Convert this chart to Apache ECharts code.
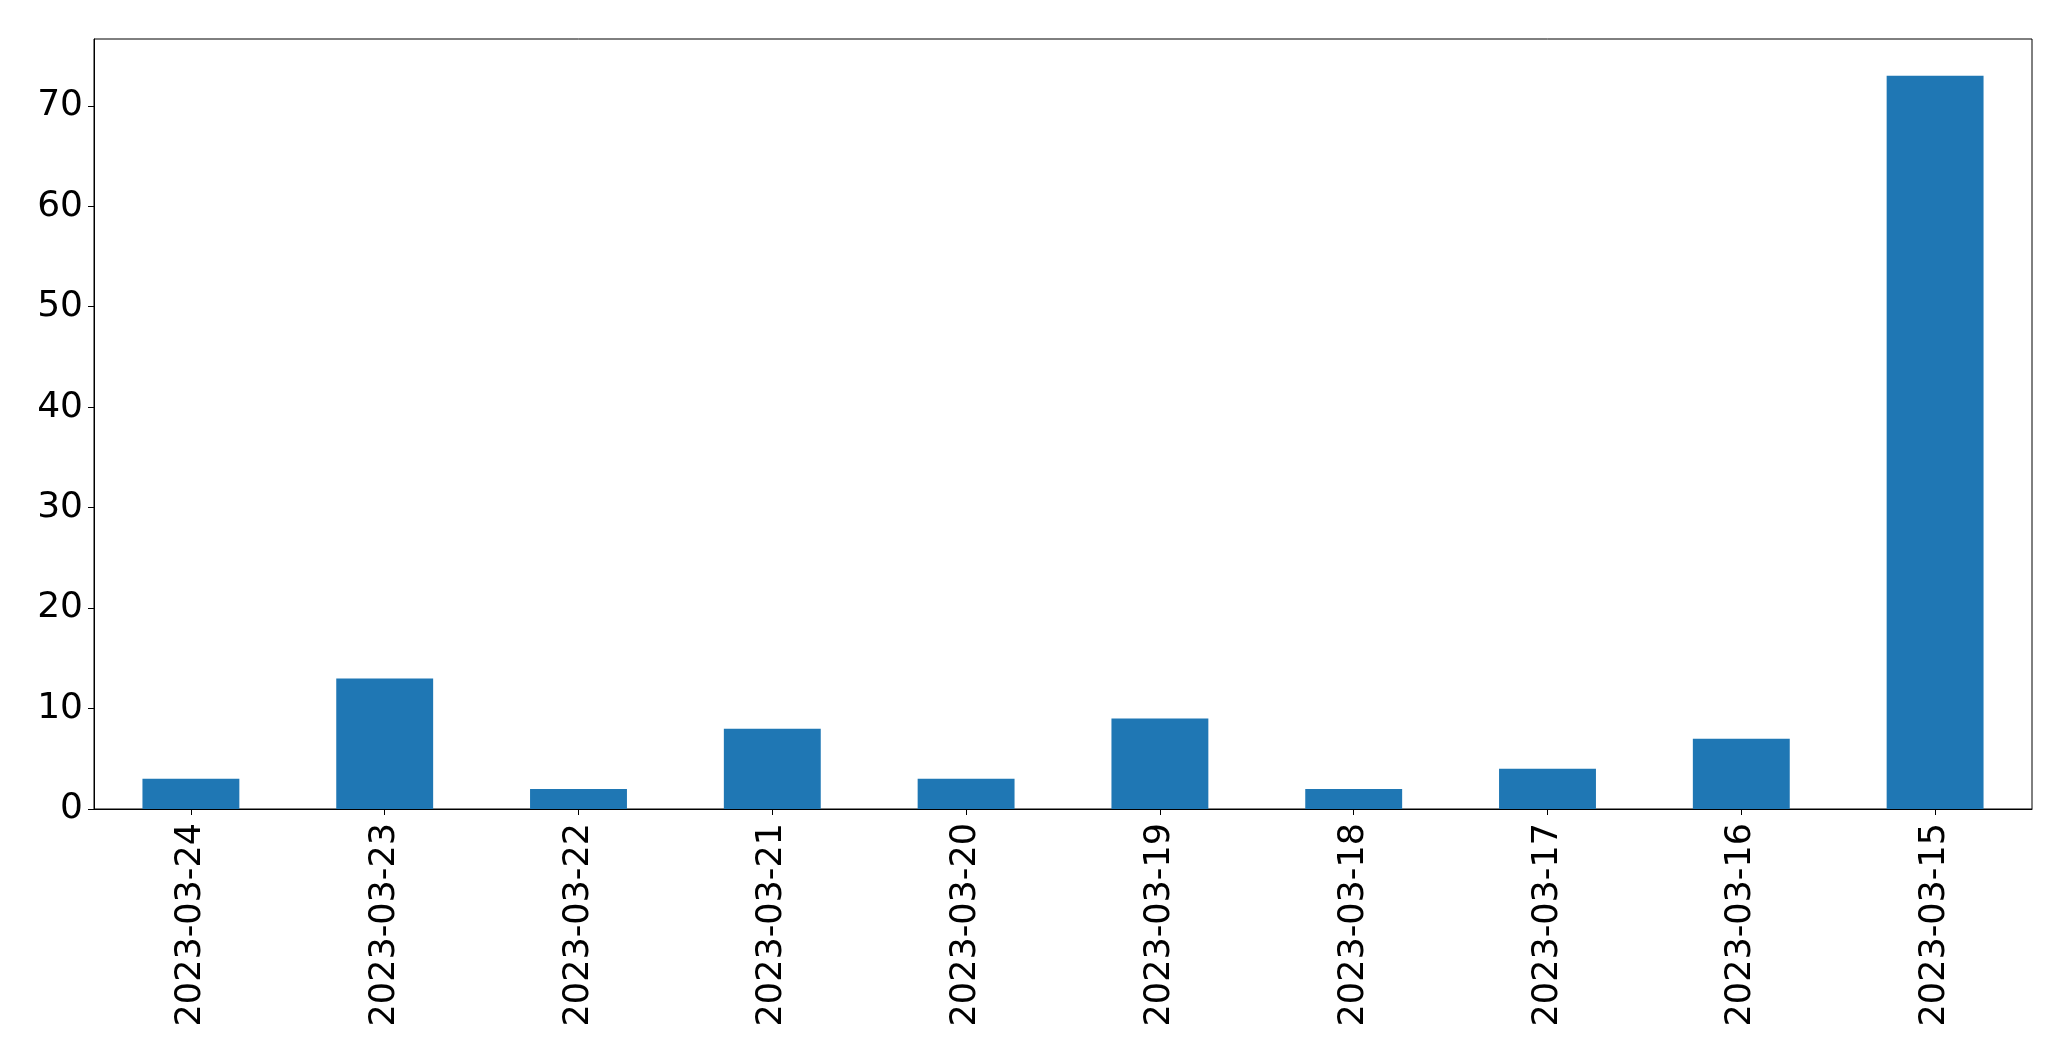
<!DOCTYPE html>
<html><head><meta charset="utf-8">
<script src="https://cdn.jsdelivr.net/npm/echarts@6/dist/echarts.min.js"></script>
<style>html,body{margin:0;padding:0;background:#fff}#c{width:2071px;height:1061px}</style>
</head><body><div id="c"></div>
<script>
const categories = ['2023-03-24','2023-03-23','2023-03-22','2023-03-21','2023-03-20','2023-03-19','2023-03-18','2023-03-17','2023-03-16','2023-03-15'];
const values = [3, 13, 2, 8, 3, 9, 2, 4, 7, 73];
const yTicks = [0, 10, 20, 30, 40, 50, 60, 70];

const chart = echarts.init(document.getElementById('c'), null, {renderer: 'canvas'});
const font = 'DejaVu Sans';
chart.setOption({
  animation: false,
  backgroundColor: '#fff',
  grid: {left: 94, top: 39, right: 39, bottom: 252, show: true, borderColor: '#000', borderWidth: 1, backgroundColor: 'transparent'},
  xAxis: {
    type: 'category', data: categories,
    axisLine: {show: true, lineStyle: {color: '#000', width: 1}},
    axisTick: {show: true, alignWithLabel: true, length: 6, lineStyle: {color: '#000'}},
    axisLabel: {rotate: 90, margin: 14, color: '#000', fontFamily: font, fontSize: 35}
  },
  yAxis: {
    type: 'value', min: 0, max: 76.65, interval: 10,
    splitLine: {show: false},
    axisLine: {show: true, lineStyle: {color: '#000', width: 1}},
    axisTick: {show: true, length: 6, lineStyle: {color: '#000'}, customValues: yTicks},
    axisLabel: {margin: 11, color: '#000', fontFamily: font, fontSize: 36, customValues: yTicks}
  },
  series: [{type: 'bar', data: values, barWidth: '50%', itemStyle: {color: '#1f77b4'}}]
});
</script></body></html>
